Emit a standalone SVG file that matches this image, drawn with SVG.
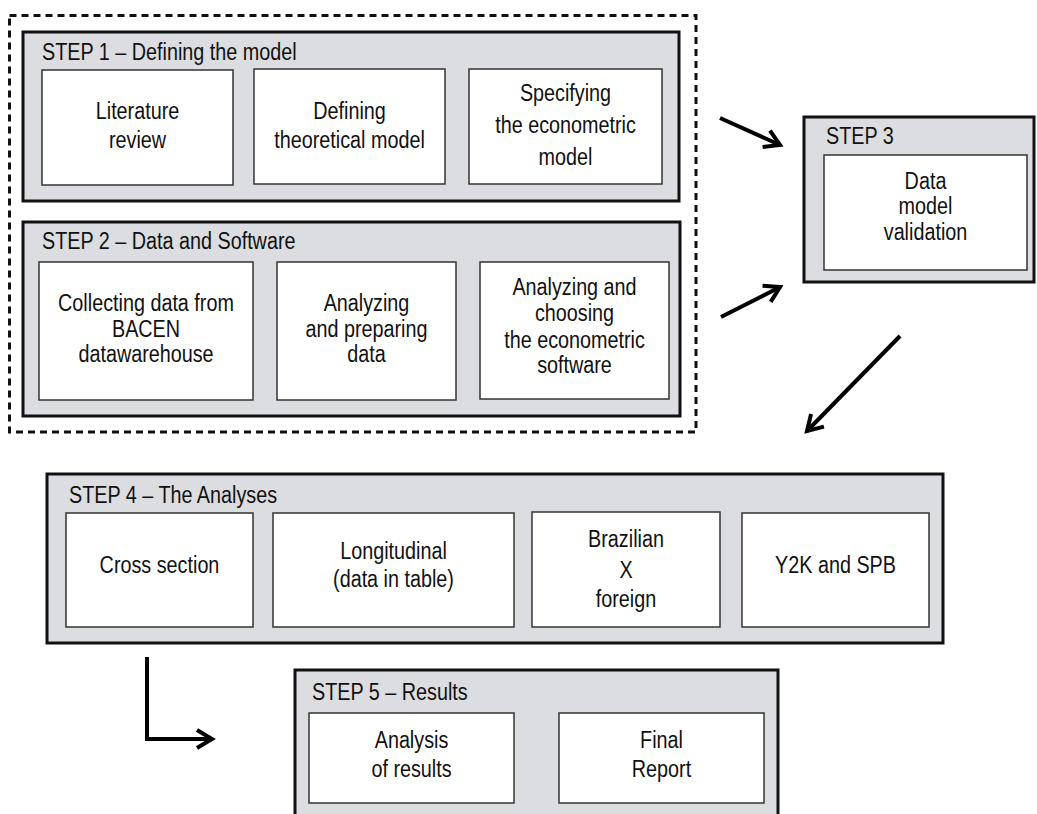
<svg xmlns="http://www.w3.org/2000/svg" width="1037" height="814" viewBox="0 0 1037 814">
<defs>
<style>
text{font-family:"Liberation Sans",Arial,sans-serif;font-size:23px;fill:#111}
.c{text-anchor:middle}
.step{fill:#dcdde0;stroke:#111;stroke-width:3}
.box{fill:#fff;stroke:#333;stroke-width:1.5}
.dash{fill:none;stroke:#111;stroke-width:3;stroke-dasharray:7 5}
.arr{fill:none;stroke:#000;stroke-width:4;marker-end:url(#ah)}
</style>
<marker id="ah" viewBox="-20 -15 30 30" refX="0" refY="0" markerWidth="30" markerHeight="30" markerUnits="userSpaceOnUse" orient="auto">
<path d="M-15,-9 L0,0 L-15,9" fill="none" stroke="#000" stroke-width="4"/>
</marker>
</defs>
<rect class="dash" x="9.5" y="15.5" width="686.5" height="416.5"/>
<g id="step1">
<rect class="step" x="23" y="32" width="656" height="169"/>
<text transform="translate(42,60) scale(.86,1)">STEP 1 – Defining the model</text>
<rect class="box" x="42" y="70" width="191" height="115"/>
<text class="c" transform="translate(137.5,119) scale(.86,1)">Literature</text>
<text class="c" transform="translate(137.5,148) scale(.86,1)">review</text>
<rect class="box" x="254" y="69" width="191" height="115"/>
<text class="c" transform="translate(349.5,119) scale(.86,1)">Defining</text>
<text class="c" transform="translate(349.5,148) scale(.86,1)">theoretical model</text>
<rect class="box" x="469" y="69" width="193" height="115"/>
<text class="c" transform="translate(565.5,101) scale(.86,1)">Specifying</text>
<text class="c" transform="translate(565.5,133) scale(.86,1)">the econometric</text>
<text class="c" transform="translate(565.5,165) scale(.86,1)">model</text>
</g>
<g id="step2">
<rect class="step" x="23" y="222" width="657" height="194"/>
<text transform="translate(42,249) scale(.86,1)">STEP 2 – Data and Software</text>
<rect class="box" x="39" y="262" width="214" height="138"/>
<text class="c" transform="translate(146,311) scale(.86,1)">Collecting data from</text>
<text class="c" transform="translate(146,337) scale(.86,1)">BACEN</text>
<text class="c" transform="translate(146,362) scale(.86,1)">datawarehouse</text>
<rect class="box" x="277" y="262" width="179" height="138"/>
<text class="c" transform="translate(366.5,311) scale(.86,1)">Analyzing</text>
<text class="c" transform="translate(366.5,337) scale(.86,1)">and preparing</text>
<text class="c" transform="translate(366.5,362) scale(.86,1)">data</text>
<rect class="box" x="480" y="262" width="189" height="137"/>
<text class="c" transform="translate(574.5,295) scale(.86,1)">Analyzing and</text>
<text class="c" transform="translate(574.5,321) scale(.86,1)">choosing</text>
<text class="c" transform="translate(574.5,348) scale(.86,1)">the econometric</text>
<text class="c" transform="translate(574.5,373) scale(.86,1)">software</text>
</g>
<g id="step3">
<rect class="step" x="804" y="117" width="230" height="165"/>
<text transform="translate(826,144) scale(.86,1)">STEP 3</text>
<rect class="box" x="824" y="155" width="203" height="115"/>
<text class="c" transform="translate(925.5,189) scale(.86,1)">Data</text>
<text class="c" transform="translate(925.5,214) scale(.86,1)">model</text>
<text class="c" transform="translate(925.5,240) scale(.86,1)">validation</text>
</g>
<g id="step4">
<rect class="step" x="47" y="474" width="896" height="169"/>
<text transform="translate(69,503) scale(.86,1)">STEP 4 – The Analyses</text>
<rect class="box" x="66" y="513" width="187" height="114"/>
<text class="c" transform="translate(159.5,573) scale(.86,1)">Cross section</text>
<rect class="box" x="273" y="513" width="241" height="114"/>
<text class="c" transform="translate(393.5,559) scale(.86,1)">Longitudinal</text>
<text class="c" transform="translate(393.5,587) scale(.86,1)">(data in table)</text>
<rect class="box" x="532" y="512" width="188" height="115"/>
<text class="c" transform="translate(626,547) scale(.86,1)">Brazilian</text>
<text class="c" transform="translate(626,578) scale(.86,1)">X</text>
<text class="c" transform="translate(626,607) scale(.86,1)">foreign</text>
<rect class="box" x="742" y="513" width="187" height="114"/>
<text class="c" transform="translate(835.5,573) scale(.86,1)">Y2K and SPB</text>
</g>
<g id="step5">
<rect class="step" x="295" y="670" width="483" height="160"/>
<text transform="translate(312,700) scale(.86,1)">STEP 5 – Results</text>
<rect class="box" x="309" y="713" width="205" height="90"/>
<text class="c" transform="translate(411.5,748) scale(.86,1)">Analysis</text>
<text class="c" transform="translate(411.5,777) scale(.86,1)">of results</text>
<rect class="box" x="559" y="713" width="205" height="90"/>
<text class="c" transform="translate(661.5,748) scale(.86,1)">Final</text>
<text class="c" transform="translate(661.5,777) scale(.86,1)">Report</text>
</g>
<g id="connectors">
<line class="arr" x1="720" y1="118" x2="780" y2="145"/>
<line class="arr" x1="721" y1="317" x2="780" y2="287"/>
<line class="arr" x1="900" y1="336" x2="807" y2="431"/>
<path class="arr" d="M147,657 V739 H212"/>
</g>
</svg>
